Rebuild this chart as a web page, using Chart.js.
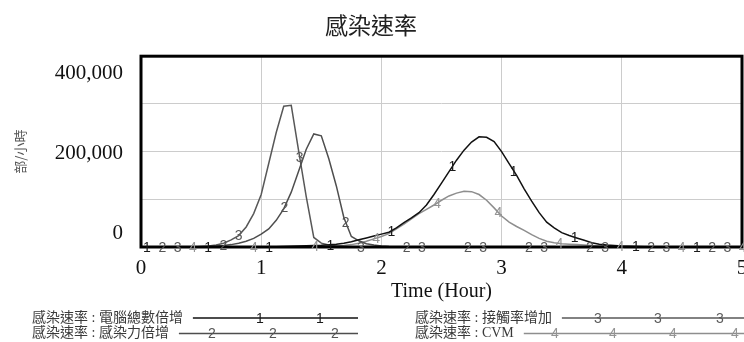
<!DOCTYPE html>
<html>
<head>
<meta charset="utf-8">
<script src="https://cdn.jsdelivr.net/npm/chart.js@4/dist/chart.umd.min.js"></script>
<style>
html,body{margin:0;padding:0;background:#fff;}
#wrap{width:744px;height:342px;position:relative;}
</style>
</head>
<body>
<div id="wrap"><canvas id="c" width="744" height="342"></canvas></div>
<script>
const chartTitle = '感染速率';
const xAxisTitle = 'Time (Hour)';
const yAxisTitle = '部/小時';
const xTickValues = [0, 1, 2, 3, 4, 5];
const yTickValues = [0, 200000, 400000];
const yTickLabels = ['0', '200,000', '400,000'];
const seriesNames = ['感染速率 : 電腦總數倍增', '感染速率 : 感染力倍增', '感染速率 : 接觸率增加', '感染速率 : CVM'];
const seriesMarks = ['1', '2', '3', '4'];

// time axis: 0 .. 5 hours, step 1/16 hour (81 points)
const timeStep = 0.0625;
const times = Array.from({length: 81}, (_, i) => i * timeStep);

const computersDoubled = [
  0,0,0,0,0,0,0,0, 0,0,0,0,100,100,200,300,
  400,500,700,1000,1500,2000,2500,3000, 3500,4500,6000,8000,11000,15000,19000,23000,
  27000,31000,40000,51000,61000,72000,88000,110000, 134000,158000,182000,203000,220000,231000,230000,221000,
  200000,175000,150000,122000,96000,72000,52000,40000, 30000,24000,19000,14000,9000,6000,4000,3000,
  2000,1500,1000,700,500,400,300,200, 200,100,100,100,0,0,0,0,
  0
];
const infectivityDoubled = [
  0,0,0,0,0,0,0,0, 500,1000,2000,3000,5000,8000,12000,18000,
  27000,38000,56000,80000,115000,160000,205000,237000, 233000,185000,128000,62000,22000,13000,7000,4000,
  2000,1000,500,0,0,0,0,0, 0,0,0,0,0,0,0,0,
  0,0,0,0,0,0,0,0, 0,0,0,0,0,0,0,0,
  0,0,0,0,0,0,0,0, 0,0,0,0,0,0,0,0,
  0
];
const contactRateUp = [
  0,0,0,0,0,0,0,0, 1000,2000,4000,8000,15000,24000,42000,70000,
  110000,175000,240000,295000,297000,200000,105000,20000, 8000,4000,2000,1000,500,0,0,0,
  0,0,0,0,0,0,0,0, 0,0,0,0,0,0,0,0,
  0,0,0,0,0,0,0,0, 0,0,0,0,0,0,0,0,
  0,0,0,0,0,0,0,0, 0,0,0,0,0,0,0,0,
  0
];
const cvm = [
  0,0,0,0,0,0,0,0, 0,0,0,0,0,0,0,0,
  0,0,0,0,300,500,700,1000, 1000,1500,2000,3000,5000,8000,12000,17000,
  22000,28000,38000,48000,59000,70000,79000,88000, 98000,107000,113000,117000,116000,110000,98000,82000,
  65000,52000,43000,35000,26000,18000,12000,9000, 7000,6000,5000,4000,3000,2000,2000,1000,
  1000,500,0,0,0,0,0,0, 0,0,0,0,0,0,0,0,
  0
];
const seriesValues = [computersDoubled, infectivityDoubled, contactRateUp, cvm];

const lineColors = ['#111111', '#4e4e4e', '#585858', '#8e8e8e'];
const markColors = ['#1a1a1a', '#555555', '#5a5a5a', '#949494'];
const markStart = 0.05, markStep = 0.5083;

function valueAt(arr, t) {
  const f = t / timeStep;
  const i = Math.floor(f);
  if (i >= arr.length - 1) return arr[arr.length - 1];
  const r = f - i;
  return arr[i] * (1 - r) + arr[i + 1] * r;
}

const legendRows = [
  {x: 32, y: 318, end: 358, marks: [260, 320]},
  {x: 32, y: 333.5, end: 358, marks: [212, 273, 335]},
  {x: 415, y: 318, end: 744, marks: [598, 658, 720]},
  {x: 415, y: 333.5, end: 744, marks: [555, 613, 673, 735]}
];

const overlay = {
  id: 'overlay',
  afterDatasetsDraw(chart) {
    const {ctx, chartArea: a, scales: {x, y}} = chart;
    ctx.save();
    ctx.strokeStyle = '#000';
    ctx.lineWidth = 3;
    ctx.strokeRect(a.left, a.top, a.right - a.left, a.bottom - a.top);
    ctx.font = '14px "Liberation Sans", Arial, sans-serif';
    ctx.textAlign = 'center';
    ctx.textBaseline = 'middle';
    seriesValues.forEach((vals, k) => {
      ctx.fillStyle = markColors[k];
      for (let t = markStart + k * markStep / 4; t <= 5.02; t += markStep) {
        const v = valueAt(vals, Math.min(t, 5));
        ctx.fillText(seriesMarks[k], x.getPixelForValue(t), y.getPixelForValue(v) + 1);
      }
    });
    ctx.restore();
  },
  afterDraw(chart) {
    const {ctx, chartArea: a, scales: {y}} = chart;
    ctx.save();
    // y tick labels
    ctx.font = '21px "Liberation Serif", "Times New Roman", serif';
    ctx.fillStyle = '#111';
    ctx.textAlign = 'right';
    ctx.textBaseline = 'middle';
    const h = a.bottom - a.top;
    yTickValues.forEach((v, i) => {
      const p = y.getPixelForValue(v);
      const ly = a.top + 17 + (p - a.top) * (h - 31) / h;
      ctx.fillText(yTickLabels[i], 123, ly);
    });
    // legend
    legendRows.forEach((row, k) => {
      ctx.font = '14px "Liberation Serif", "Noto Sans CJK TC", serif';
      ctx.fillStyle = '#3a3a3a';
      ctx.textAlign = 'left';
      ctx.textBaseline = 'middle';
      ctx.fillText(seriesNames[k], row.x, row.y);
      const w = ctx.measureText(seriesNames[k]).width;
      ctx.strokeStyle = lineColors[k];
      ctx.lineWidth = 1.5;
      ctx.beginPath();
      ctx.moveTo(row.x + w + 10, row.y);
      ctx.lineTo(row.end, row.y);
      ctx.stroke();
      ctx.font = '14px "Liberation Sans", Arial, sans-serif';
      ctx.fillStyle = markColors[k];
      ctx.textAlign = 'center';
      row.marks.forEach(mx => ctx.fillText(seriesMarks[k], mx, row.y + 1));
    });
    ctx.restore();
  }
};

new Chart(document.getElementById('c'), {
  type: 'line',
  data: {
    datasets: seriesValues.map((vals, k) => ({
      label: seriesNames[k],
      data: times.map((t, i) => ({x: t, y: vals[i]})),
      borderColor: lineColors[k],
      borderWidth: 1.5,
      pointRadius: 0,
      tension: 0,
      fill: false
    }))
  },
  options: {
    responsive: false,
    animation: false,
    devicePixelRatio: 1,
    layout: {padding: {left: 0, right: 2, top: 0, bottom: 0}},
    plugins: {
      legend: {display: false},
      tooltip: {enabled: false},
      title: {
        display: true,
        text: chartTitle,
        color: '#222',
        font: {family: '"Noto Sans CJK TC", sans-serif', size: 23, weight: 'normal'},
        padding: {top: 11, bottom: 17.6}
      }
    },
    scales: {
      x: {
        type: 'linear',
        min: 0, max: 5,
        afterBuildTicks(scale) { scale.ticks = xTickValues.map(v => ({value: v})); },
        afterFit(scale) { scale.height = 95; scale.paddingLeft = 0; scale.paddingRight = 0; },
        grid: {color: '#cccccc', lineWidth: 1, drawTicks: false},
        border: {display: false},
        ticks: {
          color: '#111',
          font: {family: '"Liberation Serif", "Times New Roman", serif', size: 21},
          padding: 9, maxRotation: 0, autoSkip: false
        },
        title: {
          display: true,
          text: xAxisTitle,
          color: '#111',
          font: {family: '"Liberation Serif", "Times New Roman", serif', size: 20},
          padding: {top: 0, bottom: 38}
        }
      },
      y: {
        min: 0, max: 400000,
        ticks: {display: false, stepSize: 100000},
        afterFit(scale) { scale.width = 141; },
        grid: {color: '#cccccc', lineWidth: 1, drawTicks: false},
        border: {display: false},
        title: {
          display: true,
          text: yAxisTitle,
          color: '#555',
          font: {family: '"Noto Sans CJK TC", sans-serif', size: 13},
          padding: {top: 12, bottom: 0}
        }
      }
    }
  },
  plugins: [overlay]
});
</script>
</body>
</html>
